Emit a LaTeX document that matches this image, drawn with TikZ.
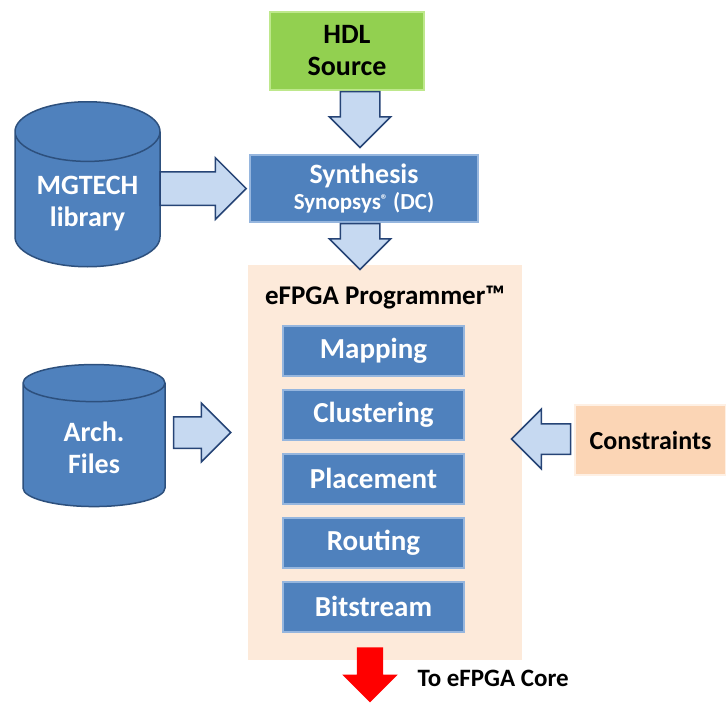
\documentclass[tikz,border=0pt]{standalone}
\usepackage{fontspec}
\setmainfont{Carlito}
\usetikzlibrary{shapes.geometric,shapes.arrows,positioning,calc}
\definecolor{hdlgreen}{RGB}{146,208,80}
\definecolor{hdledge}{RGB}{190,232,140}
\definecolor{boxblue}{RGB}{79,129,189}
\definecolor{boxedge}{RGB}{150,182,222}
\definecolor{cyledge}{RGB}{45,80,125}
\definecolor{arrowfill}{RGB}{198,217,241}
\definecolor{arrowedge}{RGB}{38,68,118}
\definecolor{progbg}{RGB}{253,234,218}
\definecolor{consfill}{RGB}{251,213,181}
\definecolor{consedge}{RGB}{254,240,228}

\begin{document}
\begin{tikzpicture}[x=1pt,y=-1pt,
  font=\bfseries\fontsize{28}{32}\selectfont,
  greenbox/.style={rectangle,draw=hdledge,fill=hdlgreen,line width=1.5pt,
                   minimum width=154pt,minimum height=78pt,align=center},
  bluebox/.style={rectangle,draw=boxedge,fill=boxblue,line width=1.5pt,
                  text=white,align=center},
  stepbox/.style={bluebox,minimum width=181pt,minimum height=50pt,
                  font=\bfseries\fontsize{29}{33}\selectfont},
  db/.style={cylinder,shape border rotate=90,aspect=0.55,draw=cyledge,fill=boxblue,
             line width=1.5pt,text=white,align=center},
  barrow/.style={single arrow,draw=arrowedge,fill=arrowfill,line width=1.5pt,
                 inner xsep=0pt,inner ysep=19pt,single arrow head extend=11pt},
  outarrow/.style={single arrow,fill=red,inner xsep=0pt,inner ysep=13pt,
                   minimum height=55pt,single arrow head extend=14.5pt},
]
\useasboundingbox (0,0) rectangle (726,702);

% main blocks
\node[greenbox] (hdl) at (347,51) {HDL\\Source};
\node[bluebox,minimum width=228pt,minimum height=67pt] (syn) at (364,188.5)
  {Synthesis\\[-6pt]{\fontsize{23}{26}\selectfont Synopsys\raisebox{5pt}{\fontsize{14}{14}\selectfont ®} (DC)}};
\node[fill=progbg,minimum width=274pt,minimum height=395pt] (prog) at (385,462.5) {};
\node[font=\bfseries\fontsize{27}{31}\selectfont] (title) at ($(prog.north)+(0,33)$) {eFPGA Programmer™};

% flow steps
\node[stepbox] (map) at ($(prog.north)+(-11.5,86)$) {Mapping};
\node[stepbox,below=12.5pt of map] (clu) {Clustering};
\node[stepbox,below=12.5pt of clu] (pla) {Placement};
\node[stepbox,below=12.5pt of pla] (rou) {Routing};
\node[stepbox,below=12.5pt of rou] (bit) {Bitstream};

% inputs
\node[db,minimum width=145pt,minimum height=165pt] (lib) at (87.5,204) {MGTECH\\library};
\node[db,minimum width=142pt,minimum height=142pt] (arch) at (94,448) {Arch.\\Files};
\node[rectangle,draw=consedge,fill=consfill,line width=1.5pt,minimum width=151pt,
      minimum height=70pt,font=\bfseries\fontsize{26}{30}\selectfont] (cons) at (650.5,440) {Constraints};

% block arrows
\node[barrow,rotate=-90,minimum height=56pt,anchor=tail] (a1) at ([xshift=13pt]hdl.south) {};
\node[barrow,rotate=-90,minimum height=46pt,anchor=tail] (a2) at ([xshift=-4pt]syn.south) {};
\node[barrow,minimum height=86pt,inner ysep=16pt,single arrow head extend=14pt,anchor=tip] (a3) at ([xshift=-2pt]syn.west) {};
\node[barrow,minimum height=57pt,inner ysep=15pt,single arrow head extend=13.5pt,anchor=tip] (a4) at ([xshift=-16pt,yshift=30pt]prog.west) {};
\node[barrow,rotate=180,minimum height=59pt,inner ysep=14.5pt,single arrow head extend=14.5pt,anchor=tail] (a5) at ([xshift=-3pt,yshift=1pt]cons.west) {};
\node[outarrow,rotate=-90,anchor=tail] (out) at ([xshift=-15pt,yshift=13pt]prog.south) {};
\node[anchor=west,font=\bfseries\fontsize{25}{29}\selectfont] (core) at ($(out.center)+(44,10)$) {To eFPGA Core};

\end{tikzpicture}
\end{document}
